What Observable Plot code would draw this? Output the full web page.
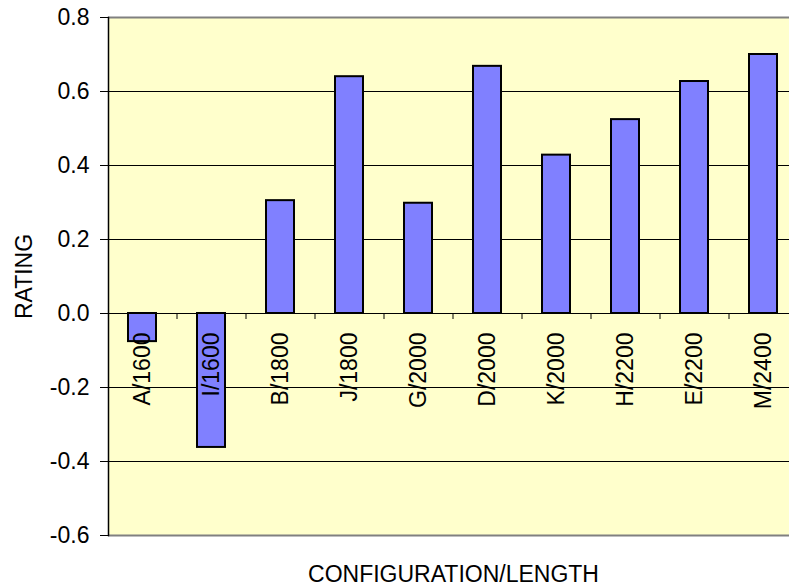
<!DOCTYPE html>
<html><head><meta charset="utf-8">
<script src="https://cdn.jsdelivr.net/npm/d3@7"></script>
<script src="https://cdn.jsdelivr.net/npm/@observablehq/plot@0.6"></script>
<style>html,body{margin:0;padding:0;overflow:hidden;background:#fff;width:789px;height:588px}
#chart{width:789px;height:588px;overflow:hidden;position:relative}
#chart svg{max-width:none !important;width:800px;height:588px}</style>
</head><body><div id="chart"></div>
<script>
const categories = ["A/1600","I/1600","B/1800","J/1800","G/2000","D/2000","K/2000","H/2200","E/2200","M/2400"];
const ratings = [-0.076,-0.362,0.305,0.640,0.298,0.668,0.428,0.524,0.627,0.700];
const yTicks = [-0.6,-0.4,-0.2,0,0.2,0.4,0.6,0.8];
const gridTicks = [-0.4,-0.2,0,0.2,0.4,0.6];
const xTitle = "CONFIGURATION/LENGTH";
const yTitle = "RATING";
const data = categories.map((c,i)=>({category:c, rating:ratings[i]}));
const font = "'Liberation Sans', Arial, sans-serif";
const W=800, H=588, ML=108, MR=2, MT=17, MB=53;
const step = (W-ML-MR)/categories.length;
const chart = Plot.plot({
  width: W, height: H, marginLeft: ML, marginRight: MR, marginTop: MT, marginBottom: MB,
  style: {fontFamily: font, fontSize: "23px", color: "#000", background: "#fff", overflow: "visible", position: "absolute", left: "0px", top: "0px", maxWidth: "none"},
  x: {domain: categories, type: "band", paddingInner: 0.59, paddingOuter: 0.295, align: 0.5, axis: null},
  y: {domain: [-0.6, 0.8], axis: null},
  marks: [
    Plot.frame({fill: "#FFFFCC"}),
    Plot.ruleY(gridTicks, {stroke: "#000", strokeWidth: 1}),
    Plot.ruleY([0.8, -0.6], {stroke: "#808080", strokeWidth: 2}),
    Plot.frame({anchor: "left", stroke: "#000", strokeWidth: 1.5}),
    Plot.axisY(yTicks, {label: null, tickSize: 8, tickPadding: 11, tickFormat: d => d.toFixed(1), fontSize: 23, stroke: "#000", fill: "#000"}),
    Plot.barY(data, {x: "category", y: "rating", fill: "#8080FF", stroke: "#000", strokeWidth: 2}),
    Plot.ruleX(categories.slice(0, -1), {x: d => d, y1: 0, y2: 0, insetTop: 0, insetBottom: -6, dx: step/2, stroke: "#000", strokeWidth: 1}),
    Plot.text(data, {x: "category", y: () => 0, text: "category", rotate: -90, textAnchor: "end", lineAnchor: "middle", dy: 19, fontSize: 23, fill: "#000"}),
    Plot.text([yTitle], {frameAnchor: "left", dx: -84, rotate: -90, textAnchor: "middle", lineAnchor: "middle", fontSize: 23, fill: "#000"}),
    Plot.text([xTitle], {frameAnchor: "bottom", dy: 39, textAnchor: "middle", lineAnchor: "middle", fontSize: 23, fill: "#000"})
  ]
});
document.getElementById("chart").appendChild(chart);
</script>
</body></html>
